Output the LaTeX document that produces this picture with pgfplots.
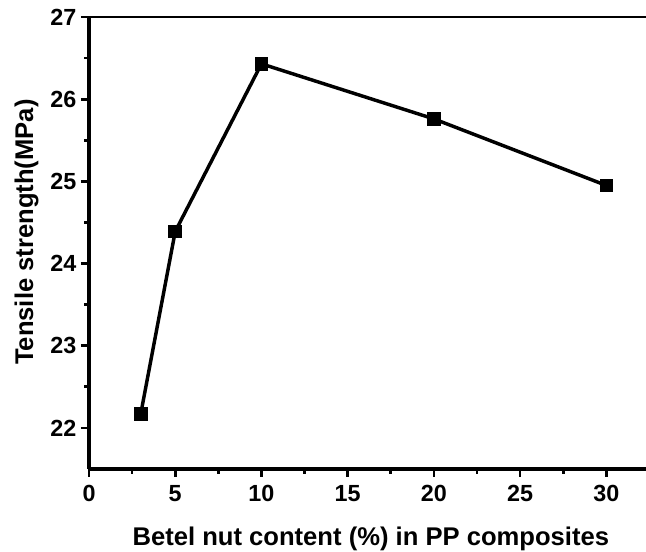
\documentclass[border=0pt]{standalone}
\usepackage{pgfplots}
\pgfplotsset{compat=1.18}
\usepackage{fontspec}
\setmainfont{Liberation Sans}
\begin{document}
\begin{tikzpicture}[x=0.75pt,y=0.75pt]
\path[use as bounding box] (-89,-83) rectangle (557,469);
\begin{axis}[
  at={(0,0)}, anchor=south west,
  scale only axis,
  width=417.75pt, height=339pt,
  xmin=0, xmax=32.3,
  ymin=21.5, ymax=27,
  axis lines*=left,
  axis line style={line width=2.8pt,-},
  xtick={0,5,10,15,20,25,30},
  ytick={22,23,24,25,26,27},
  minor x tick num=1,
  minor y tick num=1,
  tick align=outside,
  major tick length=6pt,
  minor tick length=3.5pt,
  every tick/.style={black,line width=2pt},
  tick label style={font=\bfseries\fontsize{17.5pt}{20pt}\selectfont},
  xticklabel style={yshift=-3pt},
  /pgf/number format/assume math mode=true,
  xlabel={Betel nut content (\%) in PP composites},
  ylabel={Tensile strength(MPa)},
  label style={font=\bfseries\fontsize{19.2pt}{22pt}\selectfont},
  xlabel style={at={(axis description cs:0.506,0)},anchor=north,inner sep=0pt,yshift=-43pt},
  ylabel style={at={(axis description cs:-0.09,0.524)},anchor=south,inner sep=0pt},
  clip=false,
]
\addplot[black, line width=2.6pt, mark=square*, mark size=3.8pt, mark options={solid,fill=black}]
  coordinates {(3,22.17) (5,24.39) (10,26.43) (20,25.76) (30,24.95)};
\draw[black,line width=1pt] (rel axis cs:0,1) -- (rel axis cs:1,1);
\end{axis}
\end{tikzpicture}
\end{document}
